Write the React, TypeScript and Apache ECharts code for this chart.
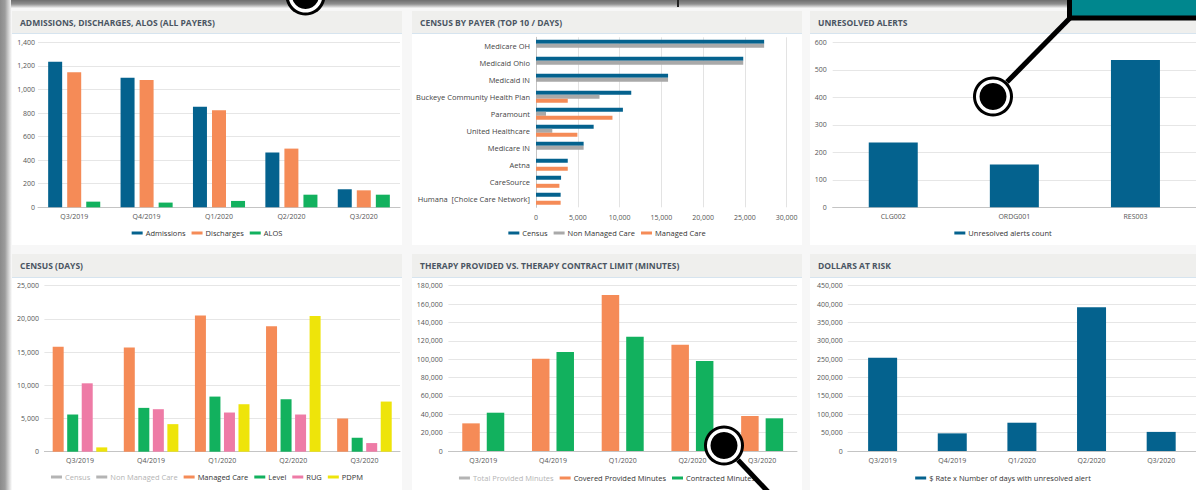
import React, { useEffect, useRef } from 'react';
import * as echarts from 'echarts';

const quarters = ['Q3/2019', 'Q4/2019', 'Q1/2020', 'Q2/2020', 'Q3/2020'];
const admissions = [1236, 1100, 854, 464, 153];
const discharges = [1145, 1080, 823, 498, 144];
const alos = [48, 40, 54, 107, 107];

const payers = ['Medicare OH', 'Medicaid Ohio', 'Medicaid IN', 'Buckeye Community Health Plan', 'Paramount', 'United Healthcare', 'Medicare IN', 'Aetna', 'CareSource', 'Humana  [Choice Care Network]'];
const payerCensus = [27300, 24800, 15800, 11400, 10400, 6900, 5700, 3800, 3000, 2950];
const payerNonManaged = [27300, 24800, 15800, 7600, 1200, 1950, 5700, 0, 0, 0];
const payerManaged = [0, 0, 0, 3800, 9150, 4950, 0, 3800, 2800, 2950];

const alertCodes = ['CLG002', 'ORDG001', 'RES003'];
const alertCounts = [236, 156, 536];

const censusManaged = [15800, 15700, 20500, 18900, 5000];
const censusLevel = [5600, 6600, 8300, 7900, 2100];
const censusRug = [10300, 6400, 5900, 5600, 1300];
const censusPdpm = [650, 4150, 7150, 20450, 7550];

const coveredMinutes = [30100, 100500, 169800, 115700, 38100];
const contractedMinutes = [41700, 107800, 124500, 98000, 35600];

const dollarsAtRisk = [254000, 48000, 77000, 391000, 52000];

const BLUE = '#04628e';
const ORANGE = '#f58b57';
const GREEN = '#12b15e';
const GRAY = '#a9a9a9';
const PINK = '#ee7ba6';
const YELLOW = '#eee40a';
const FONT = "'Open Sans', sans-serif";

const fmt = (v: number) => v.toLocaleString('en-US');

function header(title: string, width: number, h: number) {
  return {
    title: {
      text: title,
      left: 8,
      top: h / 2 - 5,
      padding: 0,
      textStyle: { fontFamily: FONT, fontSize: 8.5, fontWeight: 'bold', color: '#4a5562', lineHeight: 10 },
    },
    graphic: [
      { type: 'rect', z: -10, shape: { x: 0, y: 0, width, height: h }, style: { fill: '#efefed' } },
      { type: 'line', z: -10, shape: { x1: 0, y1: h + 0.5, x2: width, y2: h + 0.5 }, style: { stroke: '#d6e4ef', lineWidth: 1 } },
    ],
  };
}

function legend(top: number, data: string[], selected?: Record<string, boolean>) {
  return {
    top,
    left: 'center',
    padding: 0,
    itemGap: 6,
    itemWidth: 11,
    itemHeight: 3,
    icon: 'rect',
    inactiveColor: '#b4b4b4',
    textStyle: { fontFamily: FONT, fontSize: 7.5, color: '#333', padding: [0, 0, 0, -2] },
    data,
    selected,
  };
}

function catAxis(data: string[], margin: number) {
  return {
    type: 'category',
    data,
    axisLine: { lineStyle: { color: '#c4c4c4' } },
    axisTick: { length: 4, lineStyle: { color: '#c4c4c4' } },
    axisLabel: { fontFamily: FONT, fontSize: 7, color: '#555', margin },
  };
}

function valAxis(max: number, interval: number, margin: number) {
  return {
    type: 'value',
    min: 0,
    max,
    interval,
    axisLine: { show: false },
    axisTick: { show: false },
    splitLine: { lineStyle: { color: '#e6e6e6' } },
    axisLabel: { fontFamily: FONT, fontSize: 7, color: '#555', margin, formatter: fmt },
  };
}

const opt1 = {
  animation: false,
  backgroundColor: '#fff',
  ...header('ADMISSIONS, DISCHARGES, ALOS (ALL PAYERS)', 390, 22),
  legend: legend(218, ['Admissions', 'Discharges', 'ALOS']),
  grid: { left: 26, right: 2, top: 31.3, bottom: 37.7 },
  xAxis: catAxis(quarters, 6),
  yAxis: valAxis(1400, 200, 3),
  series: [
    { name: 'Admissions', type: 'bar', data: admissions, barWidth: 14, barGap: '36%', itemStyle: { color: BLUE } },
    { name: 'Discharges', type: 'bar', data: discharges, barWidth: 14, barGap: '36%', itemStyle: { color: ORANGE } },
    { name: 'ALOS', type: 'bar', data: alos, barWidth: 14, barGap: '36%', itemStyle: { color: GREEN } },
  ],
};

const opt2 = {
  animation: false,
  backgroundColor: '#fff',
  ...header('CENSUS BY PAYER (TOP 10 / DAYS)', 390, 22),
  legend: legend(218, ['Census', 'Non Managed Care', 'Managed Care']),
  grid: { left: 124, right: 15.3, top: 26.3, bottom: 37.7 },
  xAxis: {
    type: 'value', min: 0, max: 30000, interval: 5000,
    axisLine: { show: false }, axisTick: { show: false },
    splitLine: { lineStyle: { color: '#e3e3e3' } },
    axisLabel: { fontFamily: FONT, fontSize: 7, color: '#555', margin: 7, formatter: fmt },
  },
  yAxis: {
    type: 'category', data: payers, inverse: true,
    axisLine: { lineStyle: { color: '#c4c4c4' } },
    axisTick: { length: 4, lineStyle: { color: '#c4c4c4' } },
    axisLabel: { fontFamily: FONT, fontSize: 7.5, color: '#444', margin: 6 },
  },
  series: [
    { name: 'Census', type: 'bar', data: payerCensus, barWidth: 4, barGap: '0%', itemStyle: { color: BLUE } },
    { name: 'Non Managed Care', type: 'bar', data: payerNonManaged, barWidth: 4, barGap: '0%', itemStyle: { color: GRAY } },
    { name: 'Managed Care', type: 'bar', data: payerManaged, barWidth: 4, barGap: '0%', itemStyle: { color: ORANGE } },
  ],
};

const opt3 = {
  animation: false,
  backgroundColor: '#fff',
  ...header('UNRESOLVED ALERTS', 386, 22),
  legend: legend(218, ['Unresolved alerts count']),
  grid: { left: 22.7, right: 0, top: 31.3, bottom: 37.7 },
  xAxis: catAxis(alertCodes, 6),
  yAxis: valAxis(600, 100, 6),
  series: [
    { name: 'Unresolved alerts count', type: 'bar', data: alertCounts, barWidth: 49, itemStyle: { color: BLUE } },
  ],
};

const opt4 = {
  animation: false,
  backgroundColor: '#fff',
  ...header('CENSUS (DAYS)', 390, 23),
  legend: legend(219, ['Census', 'Non Managed Care', 'Managed Care', 'Level', 'RUG', 'PDPM'], { 'Census': false, 'Non Managed Care': false }),
  grid: { left: 32.4, right: 2, top: 31.7, bottom: 38.3 },
  xAxis: catAxis(quarters, 5.5),
  yAxis: valAxis(25000, 5000, 5.5),
  series: [
    { name: 'Census', type: 'bar', data: [], barWidth: 11, barGap: '32%', itemStyle: { color: '#9a9a9a' } },
    { name: 'Non Managed Care', type: 'bar', data: [], barWidth: 11, barGap: '32%', itemStyle: { color: '#777' } },
    { name: 'Managed Care', type: 'bar', data: censusManaged, barWidth: 11, barGap: '32%', itemStyle: { color: ORANGE } },
    { name: 'Level', type: 'bar', data: censusLevel, barWidth: 11, barGap: '32%', itemStyle: { color: GREEN } },
    { name: 'RUG', type: 'bar', data: censusRug, barWidth: 11, barGap: '32%', itemStyle: { color: PINK } },
    { name: 'PDPM', type: 'bar', data: censusPdpm, barWidth: 11, barGap: '32%', itemStyle: { color: YELLOW } },
  ],
};

const opt5 = {
  animation: false,
  backgroundColor: '#fff',
  ...header('THERAPY PROVIDED VS. THERAPY CONTRACT LIMIT (MINUTES)', 390, 23),
  legend: legend(220, ['Total Provided Minutes', 'Covered Provided Minutes', 'Contracted Minutes'], { 'Total Provided Minutes': false }),
  grid: { left: 36.4, right: 5, top: 31.7, bottom: 39 },
  xAxis: catAxis(quarters, 5.5),
  yAxis: valAxis(180000, 20000, 5.7),
  series: [
    { name: 'Total Provided Minutes', type: 'bar', data: [], barWidth: 17.5, barGap: '40%', itemStyle: { color: '#777' } },
    { name: 'Covered Provided Minutes', type: 'bar', data: coveredMinutes, barWidth: 17.5, barGap: '40%', itemStyle: { color: ORANGE } },
    { name: 'Contracted Minutes', type: 'bar', data: contractedMinutes, barWidth: 17.5, barGap: '40%', itemStyle: { color: GREEN } },
  ],
};

const opt6 = {
  animation: false,
  backgroundColor: '#fff',
  ...header('DOLLARS AT RISK', 386, 23),
  legend: legend(220, ['$ Rate x Number of days with unresolved alert']),
  grid: { left: 37.8, right: 0, top: 31.7, bottom: 39 },
  xAxis: catAxis(quarters, 5.5),
  yAxis: valAxis(450000, 50000, 5),
  series: [
    { name: '$ Rate x Number of days with unresolved alert', type: 'bar', data: dollarsAtRisk, barWidth: 29, itemStyle: { color: BLUE } },
  ],
};

function ring(cx: number, cy: number) {
  return [
    { type: 'circle', shape: { cx, cy, r: 20 }, style: { fill: '#000' } },
    { type: 'circle', shape: { cx, cy, r: 17 }, style: { fill: '#fff' } },
    { type: 'circle', shape: { cx, cy, r: 13.5 }, style: { fill: '#000' } },
  ];
}

const overlayOpt = {
  animation: false,
  graphic: [
    { type: 'rect', shape: { x: 677, y: 0, width: 2, height: 7 }, style: { fill: '#222' } },
    { type: 'line', shape: { x1: 1007, y1: 82, x2: 1070, y2: 18 }, style: { stroke: '#000', lineWidth: 5 } },
    { type: 'rect', shape: { x: 1069.5, y: -20, width: 140, height: 38 }, style: { fill: '#00878e', stroke: '#000', lineWidth: 5 } },
    { type: 'line', shape: { x1: 738, y1: 460, x2: 772, y2: 496 }, style: { stroke: '#000', lineWidth: 5 } },
    ...ring(305.5, -4.5),
    ...ring(993, 96.5),
    ...ring(724, 445.5),
  ],
};

function Chart({ style, option }: { style: React.CSSProperties; option: any }) {
  const ref = useRef<HTMLDivElement>(null);
  useEffect(() => {
    const c = echarts.init(ref.current!, null, { renderer: 'svg' });
    c.setOption(option);
    return () => c.dispose();
  }, []);
  return <div ref={ref} style={style} />;
}

const pos = (left: number, top: number, width: number, height: number): React.CSSProperties => ({
  position: 'absolute', left, top, width, height,
});

export default function App() {
  return (
    <div style={{ position: 'fixed', left: 0, top: 0, width: 1196, height: 490, overflow: 'hidden', background: '#f7f7f7' }}>
      <div style={{ ...pos(0, 0, 1196, 8), background: 'linear-gradient(to bottom, #6e6e6e 0px, #8e8e8e 4px, #d8d8d8 7px, #f3f3f3 8px)' }} />
      <div style={{ ...pos(0, 0, 11, 490), background: 'linear-gradient(to right, #8a8a8a 0px, #9c9c9c 5px, #c8c8c8 8px, #f0f0f0 11px)' }} />
      <Chart style={pos(12, 11, 390, 234)} option={opt1} />
      <Chart style={pos(412, 11, 390, 234)} option={opt2} />
      <Chart style={pos(810, 11, 386, 234)} option={opt3} />
      <Chart style={pos(12, 254, 390, 236)} option={opt4} />
      <Chart style={pos(412, 254, 390, 236)} option={opt5} />
      <Chart style={pos(810, 254, 386, 236)} option={opt6} />
      <div style={{ ...pos(0, 0, 1196, 490), pointerEvents: 'none' }}>
        <Chart style={pos(0, 0, 1196, 490)} option={overlayOpt} />
      </div>
    </div>
  );
}
